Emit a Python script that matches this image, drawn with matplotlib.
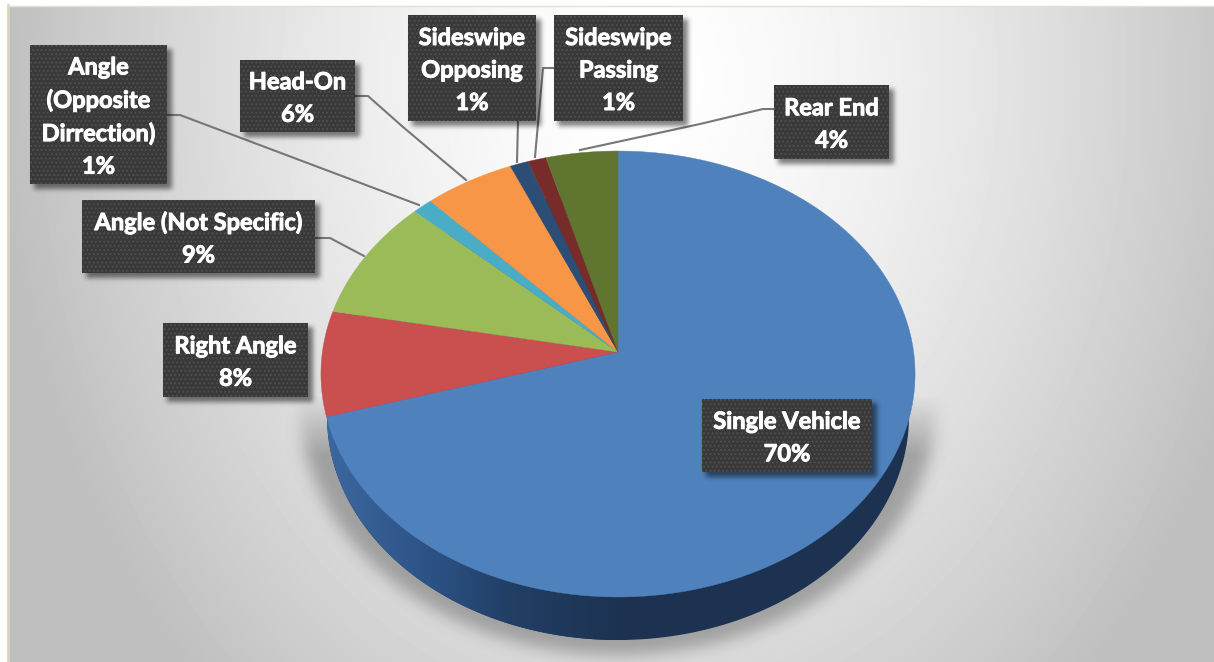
import numpy as np
import matplotlib
matplotlib.use('Agg')
import matplotlib.pyplot as plt
import matplotlib.patheffects as pe
from matplotlib.patches import Polygon, Rectangle
from matplotlib.colors import LinearSegmentedColormap

plt.rcParams['font.family'] = ['Lato', 'DejaVu Sans']
plt.rcParams['hatch.linewidth'] = 0.8

# clockwise from 12 o'clock
categories = ['Single Vehicle', 'Right Angle', 'Angle (Not Specific)',
              'Angle\n(Opposite\nDirrection)', 'Head-On', 'Sideswipe\nOpposing',
              'Sideswipe\nPassing', 'Rear End']
slice_sizes = [70.4, 7.6, 8.9, 1.2, 5.4, 1.1, 1.1, 4.3]
percent_labels = ['70%', '8%', '9%', '1%', '6%', '1%', '1%', '4%']
colors = ['#4f81bd', '#c9504f', '#9bbb59', '#4bacc6', '#f79646', '#2c4d75', '#772c2a', '#5f7530']

# label boxes, pixels: left, top, right, bottom
boxes = [(702, 399, 872, 472), (163, 323, 308, 397), (82, 200, 315, 273),
         (30, 45, 167, 184), (240, 60, 355, 132), (408, 15, 536, 121),
         (554, 15, 683, 121), (774, 85, 889, 159)]
leaders = [None,
           None,
           [(315, 238), (330, 238), (364, 256)],
           [(167, 115), (180, 115), (419, 205)],
           [(355, 96), (368, 96), (403, 127), (466, 180)],
           [(518, 121), (517, 162)],
           [(554, 68), (543, 68), (535, 157)],
           [(774, 109), (763, 109), (700, 124), (580, 150)]]

W, H = 1214, 662
CX, CY = 618., 352.   # apex of the pie
K = 0.0987            # perspective of the tilted disc
RX, RY = 295.6, 220.8


def project(angle):
    """ angle in radians clockwise from the top -> pixel on the tilted disc """
    c = np.sin(angle)
    s = -np.cos(angle)
    w = 1. - K * s
    return CX + RX * c / w, CY + RY * s / w


def blur(a, sigma):
    r = int(3 * sigma)
    kern = np.exp(-0.5 * (np.arange(-r, r + 1) / sigma) ** 2)
    kern /= kern.sum()
    a = np.apply_along_axis(lambda v: np.convolve(v, kern, mode='same'), 0, a)
    a = np.apply_along_axis(lambda v: np.convolve(v, kern, mode='same'), 1, a)
    return a


fig = plt.figure(figsize=(W / 100., H / 100.), dpi=100)
ax = fig.add_axes([0, 0, 1, 1])
ax.axis('off')

Y, X = np.mgrid[0:H, 0:W]
px = X + 0.5
py = Y + 0.5

""" background """
d = np.sqrt(((px - 640.) / 610.) ** 2 + ((py - 80.) / 800.) ** 2)
bg = 255. - 60. * np.clip(d, 0, 1.05) ** 1.5
bg_im = ax.imshow(bg, cmap='gray', vmin=0, vmax=255, extent=(0, W, H, 0), aspect='auto', zorder=0)
bg_im.set_clip_path(Rectangle((9, 6), W, H, transform=ax.transData))
ax.plot([8, 8], [5, H], color='#d9d5bd', lw=2, zorder=1)
ax.plot([8, W], [5.5, 5.5], color='#e4e0cc', lw=1, zorder=1)

""" shadow under the pie """
sh = (((px - 618.) / 318.) ** 2 + ((py - 405.) / 250.) ** 2 < 1).astype(float)
sh = blur(sh, 8.)
sh = sh * np.clip((py - 395.) / 60., 0, 1)
sh_rgba = np.zeros((H, W, 4))
sh_rgba[..., :3] = 0.3
sh_rgba[..., 3] = 0.42 * sh
ax.imshow(sh_rgba, extent=(0, W, H, 0), aspect='auto', zorder=2)

""" side of the pie """
tt = np.linspace(0, 2 * np.pi, 721)
side_outline = np.column_stack([618. + 291. * np.cos(tt), 416. + 224. * np.sin(tt)])
side_cmap = LinearSegmentedColormap.from_list('side', [(0, '#3c679e'), (0.35, '#2c5285'),
                                                        (0.6, '#223f66'), (1, '#1c3250')])
side_im = ax.imshow(np.linspace(0, 1, 300)[None, :], cmap=side_cmap,
                    extent=(327, 627, H, 0), aspect='auto', zorder=3)
side_im.set_clip_path(Polygon(side_outline, transform=ax.transData))
ax.add_patch(Polygon(side_outline, closed=True, facecolor='#1c3250', edgecolor='none', zorder=2.9))

""" slices """
edges = np.cumsum([0.] + slice_sizes) / np.sum(slice_sizes) * 2 * np.pi
for i in range(len(slice_sizes)):
    aa = np.linspace(edges[i], edges[i + 1], 300)
    xs, ys = project(aa)
    pts = np.column_stack([np.r_[CX, xs], np.r_[CY, ys]])
    ax.add_patch(Polygon(pts, closed=True, facecolor=colors[i], edgecolor=colors[i], lw=0.3, zorder=4))

""" leader lines """
for line in leaders:
    if line is not None:
        ax.plot([p[0] for p in line], [p[1] for p in line], color='#777777', lw=1.5, zorder=5)

""" shadows of the boxes """
mask = np.zeros((H, W))
for x0, y0, x1, y1 in boxes:
    mask[y0 + 4:y1 + 5, x0 + 4:x1 + 5] = 1.
mask = blur(mask, 2.5)
box_rgba = np.zeros((H, W, 4))
box_rgba[..., 3] = 0.5 * mask
ax.imshow(box_rgba, extent=(0, W, H, 0), aspect='auto', zorder=6)

""" labels """
for i, (x0, y0, x1, y1) in enumerate(boxes):
    ax.add_patch(Rectangle((x0, y0), x1 - x0, y1 - y0, facecolor='#393939', edgecolor='#515151',
                           hatch='....', lw=0, zorder=7))
    ax.text((x0 + x1) / 2., (y0 + y1) / 2. + 2, categories[i] + '\n' + percent_labels[i],
            color='white', fontsize=17, fontweight='bold', ha='center', va='center',
            linespacing=1.5, zorder=8,
            path_effects=[pe.withStroke(linewidth=0.7, foreground='white')])

ax.set_xlim(0, W)
ax.set_ylim(H, 0)
fig.savefig('out.png', dpi=100, facecolor='white')
